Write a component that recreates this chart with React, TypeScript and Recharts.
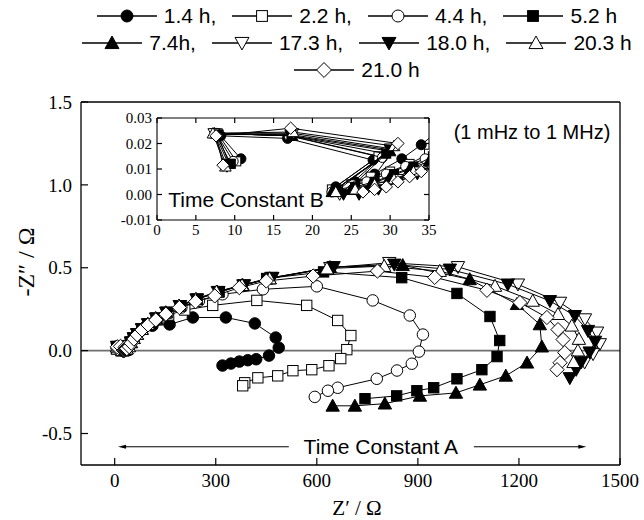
import React from "react";
import { ScatterChart, Scatter, XAxis, YAxis, ReferenceLine } from "recharts";

// Nyquist spectra, Z' (ohm) vs -Z'' (ohm), listed from 1 MHz down to 1 mHz
const s1_4h: [number, number][] = [
  [10.8, 0.014], [8.2, 0.023], [16.8, 0.022], [27.8, 0.0135], [23, 0.003], [25.5, 0.005], [28, 0.008],
  [31.5, 0.014], [34, 0.0195], [39, 0.032], [46, 0.05], [55, 0.075], [66, 0.1], [83, 0.128], [112, 0.15],
  [163, 0.158], [232, 0.2], [330, 0.2], [416, 0.164], [478, 0.079], [487, 0.018], [458, -0.03],
  [420, -0.052], [395, -0.058], [370, -0.066], [345, -0.078], [320, -0.09],
];
const s2_2h: [number, number][] = [
  [10.2, 0.013], [7.8, 0.024], [17.2, 0.023], [28.5, 0.015], [22.5, 0.002], [25, 0.004], [27.5, 0.007],
  [30, 0.009], [32.5, 0.012], [35, 0.016], [40, 0.03], [47, 0.05], [56, 0.075], [67, 0.1], [82, 0.13],
  [102, 0.16], [128, 0.19], [160, 0.215], [208, 0.245], [291, 0.273], [422, 0.303], [570, 0.273],
  [662, 0.182], [701, 0.091], [689, 0.006], [671, -0.048], [636, -0.091], [585, -0.115], [529, -0.121],
  [484, -0.152], [425, -0.164], [386, -0.194], [380, -0.212],
];
const s4_4h: [number, number][] = [
  [9.8, 0.013], [7.6, 0.024], [17, 0.023], [29, 0.0145], [22.5, 0.001], [24.5, 0.003], [27, 0.005],
  [29.5, 0.008], [32, 0.011], [34.5, 0.014], [40, 0.028], [47, 0.05], [56, 0.075], [67, 0.1], [81, 0.13],
  [100, 0.16], [125, 0.19], [157, 0.225], [198, 0.26], [250, 0.3], [320, 0.34], [440, 0.37], [600, 0.388],
  [766, 0.303], [876, 0.212], [915, 0.097], [903, -0.006], [882, -0.079], [838, -0.12], [778, -0.17],
  [662, -0.224], [633, -0.242], [594, -0.279],
];
const s5_2h: [number, number][] = [
  [9.5, 0.012], [7.5, 0.024], [17.3, 0.023], [29.5, 0.016], [23, 0.002], [25.5, 0.003], [28, 0.005],
  [30.5, 0.008], [33, 0.011], [35.5, 0.015], [41, 0.028], [47, 0.05], [56, 0.075], [66, 0.1], [80, 0.13],
  [99, 0.16], [123, 0.195], [154, 0.23], [194, 0.27], [245, 0.31], [310, 0.355], [451, 0.435], [620, 0.475],
  [852, 0.44], [1016, 0.345], [1114, 0.206], [1143, 0.061], [1135, -0.036], [1090, -0.115], [1016, -0.17],
  [947, -0.224], [897, -0.242], [837, -0.273], [743, -0.29],
];
const s7_4h: [number, number][] = [
  [9.2, 0.012], [7.4, 0.024], [17.4, 0.023], [30, 0.017], [22.5, 0.001], [25, 0.002], [27.5, 0.004],
  [30, 0.007], [32.5, 0.01], [35, 0.013], [41, 0.027], [48, 0.05], [56, 0.075], [66, 0.1], [80, 0.13],
  [98, 0.16], [122, 0.195], [152, 0.23], [192, 0.27], [242, 0.31], [305, 0.355], [380, 0.395], [460, 0.435],
  [639, 0.503], [855, 0.515], [1054, 0.43], [1194, 0.28], [1262, 0.158], [1268, 0.024], [1224, -0.073],
  [1161, -0.152], [1084, -0.206], [1013, -0.255], [906, -0.273], [802, -0.32], [713, -0.333], [647, -0.333],
];
const s17_3h: [number, number][] = [
  [9, 0.011], [7.3, 0.024], [17.5, 0.024], [30, 0.018], [23.5, 0], [26, 0.001], [28.5, 0.003],
  [31, 0.006], [33.5, 0.009], [36, 0.012], [42, 0.026], [48, 0.05], [57, 0.075], [67, 0.1], [81, 0.13],
  [99, 0.16], [123, 0.195], [153, 0.23], [193, 0.27], [243, 0.31], [306, 0.355], [382, 0.395], [465, 0.44],
  [640, 0.5], [815, 0.53], [1019, 0.505], [1197, 0.4], [1322, 0.29], [1396, 0.19], [1432, 0.11],
  [1440, 0.04], [1420, -0.02], [1395, -0.07],
];
const s18_0h: [number, number][] = [
  [9.3, 0.012], [7.8, 0.0235], [17.2, 0.0235], [30, 0.0175], [24, 0], [26, 0], [28.5, 0.002],
  [31, 0.005], [33.5, 0.008], [36, 0.011], [42, 0.025], [49, 0.05], [57, 0.075], [67, 0.1], [82, 0.13],
  [100, 0.16], [124, 0.195], [154, 0.23], [194, 0.27], [245, 0.31], [308, 0.355], [384, 0.395], [468, 0.44],
  [650, 0.505], [830, 0.52], [995, 0.49], [1167, 0.4], [1292, 0.3], [1366, 0.21], [1405, 0.12],
  [1426, 0.055], [1410, -0.01], [1385, -0.07], [1370, -0.115], [1351, -0.165],
];
const s20_3h: [number, number][] = [
  [8.8, 0.011], [7.2, 0.024], [17.5, 0.0245], [30.5, 0.019], [23, 0.001], [25.5, 0.002], [28, 0.004],
  [30.5, 0.006], [33, 0.009], [35.5, 0.012], [42, 0.025], [48, 0.05], [56, 0.075], [66, 0.1], [80, 0.13],
  [98, 0.16], [121, 0.195], [151, 0.23], [190, 0.27], [240, 0.31], [302, 0.355], [378, 0.395], [460, 0.435],
  [630, 0.495], [800, 0.51], [965, 0.48], [1129, 0.39], [1241, 0.3], [1316, 0.22], [1357, 0.15],
  [1378, 0.07], [1375, 0], [1362, -0.07],
];
const s21_0h: [number, number][] = [
  [8.5, 0.0115], [7.6, 0.023], [17.2, 0.026], [31, 0.02], [26.5, 0.001], [28, 0.002], [29.5, 0.003],
  [31, 0.005], [32.5, 0.007], [34, 0.009], [36, 0.012], [43, 0.024], [49, 0.045], [57, 0.07], [67, 0.095],
  [81, 0.125], [99, 0.155], [122, 0.185], [152, 0.22], [192, 0.26], [240, 0.295], [297, 0.33], [370, 0.38],
  [450, 0.42], [589, 0.45], [780, 0.48], [950, 0.442], [1105, 0.364], [1203, 0.29], [1283, 0.2],
  [1316, 0.127], [1331, 0.067], [1336, -0.012], [1322, -0.073], [1313, -0.115],
];

const xTicks = [0, 300, 600, 900, 1200, 1500];
const yTicks = [-0.5, 0, 0.5, 1.0, 1.5];
const insetXTicks = [0, 5, 10, 15, 20, 25, 30, 35];
const insetYTicks = [-0.01, 0, 0.01, 0.02, 0.03];

type MarkerKind = "circle" | "square" | "up" | "down" | "diamond";

const seriesList: { name: string; pts: [number, number][]; kind: MarkerKind; filled: boolean }[] = [
  { name: "1.4 h,", pts: s1_4h, kind: "circle", filled: true },
  { name: "2.2 h,", pts: s2_2h, kind: "square", filled: false },
  { name: "4.4 h,", pts: s4_4h, kind: "circle", filled: false },
  { name: "5.2 h", pts: s5_2h, kind: "square", filled: true },
  { name: "7.4h,", pts: s7_4h, kind: "up", filled: true },
  { name: "17.3 h,", pts: s17_3h, kind: "down", filled: false },
  { name: "18.0 h,", pts: s18_0h, kind: "down", filled: true },
  { name: "20.3 h", pts: s20_3h, kind: "up", filled: false },
  { name: "21.0 h", pts: s21_0h, kind: "diamond", filled: false },
];

const SERIF = "'Liberation Serif', 'Times New Roman', serif";
const SANS = "'Liberation Sans', Arial, sans-serif";

function Marker({ cx, cy, kind, filled, s }: { cx: number; cy: number; kind: MarkerKind; filled: boolean; s: number }) {
  const fill = filled ? "#000" : "#fff";
  const common = { fill, stroke: "#000", strokeWidth: 1 };
  if (kind === "circle") return <circle cx={cx} cy={cy} r={s * 0.5} {...common} />;
  if (kind === "square") {
    const h = s * 0.45;
    return <rect x={cx - h} y={cy - h} width={2 * h} height={2 * h} {...common} />;
  }
  if (kind === "diamond") {
    const h = s * 0.62;
    return <polygon points={`${cx},${cy - h} ${cx + h},${cy} ${cx},${cy + h} ${cx - h},${cy}`} {...common} />;
  }
  const h = s * 0.58;
  if (kind === "up")
    return <polygon points={`${cx},${cy - h} ${cx + h},${cy + h * 0.8} ${cx - h},${cy + h * 0.8}`} {...common} />;
  return <polygon points={`${cx},${cy + h} ${cx + h},${cy - h * 0.8} ${cx - h},${cy - h * 0.8}`} {...common} />;
}

const toRows = (pts: [number, number][]) => pts.map(([x, y]) => ({ x, y }));

// inward ticks, labels outside
const BottomTick = (p: any) => (
  <g>
    <line x1={p.x} y1={p.y} x2={p.x} y2={p.y - p.len} stroke="#000" strokeWidth={1.2} />
    <text x={p.x} y={p.y + p.gap} textAnchor="middle" fontFamily={SERIF} fontSize={p.size} fill="#000">
      {p.payload.value}
    </text>
  </g>
);
const LeftTick = (p: any) => (
  <g>
    <line x1={p.x} y1={p.y} x2={p.x + p.len} y2={p.y} stroke="#000" strokeWidth={1.2} />
    <text x={p.x - p.gap} y={p.y} dy="0.35em" textAnchor="end" fontFamily={SERIF} fontSize={p.size} fill="#000">
      {p.fmt(p.payload.value)}
    </text>
  </g>
);
const TopTick = (p: any) => <line x1={p.x} y1={p.y} x2={p.x} y2={p.y + p.len} stroke="#000" strokeWidth={1.2} />;
const RightTick = (p: any) => <line x1={p.x} y1={p.y} x2={p.x - p.len} y2={p.y} stroke="#000" strokeWidth={1.2} />;

// arrow from the text centre outward, leaving room for the caption
const ArrowSeg = (p: any) => {
  const dir = Math.sign(p.x2 - p.x1);
  const sx = p.x1 + dir * p.gap;
  const tip = p.x2;
  return (
    <g>
      <line x1={sx} y1={p.y1} x2={tip - dir * 6} y2={p.y2} stroke="#000" strokeWidth={1} />
      <polygon points={`${tip},${p.y2} ${tip - dir * 8},${p.y2 - 2} ${tip - dir * 8},${p.y2 + 2}`} fill="#000" />
      {p.caption && (
        <text x={p.x1} y={p.y1} dy="0.35em" textAnchor="middle" fontFamily={SANS} fontSize={21} fill="#000">
          {p.caption}
        </text>
      )}
    </g>
  );
};

const fmt1 = (v: number) => v.toFixed(1);
const fmt2 = (v: number) => v.toFixed(2);

function LegendItem({ name, kind, filled }: { name: string; kind: MarkerKind; filled: boolean }) {
  return (
    <span style={{ display: "inline-flex", alignItems: "center", margin: "0 8px" }}>
      <svg width={60} height={16}>
        <line x1={0} y1={8} x2={60} y2={8} stroke="#000" strokeWidth={1.3} />
        <Marker cx={30} cy={8} kind={kind} filled={filled} s={12} />
      </svg>
      <span style={{ marginLeft: 7 }}>{name}</span>
    </span>
  );
}

export default function App() {
  const rows = [seriesList.slice(0, 4), seriesList.slice(4, 8), seriesList.slice(8)];
  return (
    <div style={{ position: "absolute", left: 0, top: 0, width: 644, height: 520, background: "#fff", overflow: "hidden" }}>
      {/* legend */}
      <div style={{ position: "absolute", left: 0, top: 2, width: 714, fontFamily: SANS, fontSize: 21, color: "#000" }}>
        {rows.map((r, i) => (
          <div key={i} style={{ display: "flex", justifyContent: "center", height: 27, alignItems: "center" }}>
            {r.map((s) => (
              <LegendItem key={s.name} name={s.name} kind={s.kind} filled={s.filled} />
            ))}
          </div>
        ))}
      </div>

      {/* main Nyquist plot */}
      <div style={{ position: "absolute", left: 0, top: 0 }}>
        <ScatterChart width={644} height={520} margin={{ top: 101, right: 23, bottom: 54, left: 80 }}>
          <XAxis xAxisId="b" type="number" dataKey="x" domain={[-100, 1500]} ticks={xTicks} interval={0} height={1}
            tickSize={0} tickMargin={0} stroke="#000" strokeWidth={1.3}
            tick={<BottomTick len={7} gap={22} size={19} />} />
          <XAxis xAxisId="t" orientation="top" type="number" dataKey="x" domain={[-100, 1500]} ticks={xTicks} interval={0}
            height={1} tickSize={0} tickMargin={0} stroke="#000" strokeWidth={1.3} tick={<TopTick len={7} />} />
          <YAxis yAxisId="l" type="number" dataKey="y" domain={[-0.69, 1.5]} ticks={yTicks} interval={0} width={1}
            tickSize={0} tickMargin={0} stroke="#000" strokeWidth={1.3}
            tick={<LeftTick len={7} gap={9} size={19} fmt={fmt1} />} />
          <YAxis yAxisId="r" orientation="right" type="number" dataKey="y" domain={[-0.69, 1.5]} ticks={yTicks} interval={0}
            width={1} tickSize={0} tickMargin={0} stroke="#000" strokeWidth={1.3} tick={<RightTick len={7} />} />
          <ReferenceLine xAxisId="b" yAxisId="l" y={0} stroke="#6e6e6e" strokeWidth={1.6} />
          <ReferenceLine xAxisId="b" yAxisId="l" segment={[{ x: 790, y: -0.58 }, { x: 10, y: -0.58 }]}
            shape={(p: any) => <ArrowSeg {...p} gap={92} caption="Time Constant A" />} />
          <ReferenceLine xAxisId="b" yAxisId="l" segment={[{ x: 790, y: -0.58 }, { x: 1400, y: -0.58 }]}
            shape={(p: any) => <ArrowSeg {...p} gap={93} />} />
          {seriesList.map((s) => (
            <Scatter key={s.name} xAxisId="b" yAxisId="l" data={toRows(s.pts)} line={{ stroke: "#000", strokeWidth: 1 }}
              lineType="joint" isAnimationActive={false}
              shape={(p: any) => <Marker cx={p.cx} cy={p.cy} kind={s.kind} filled={s.filled} s={11.5} />} />
          ))}
        </ScatterChart>
      </div>

      {/* high-frequency inset */}
      <div style={{ position: "absolute", left: 100, top: 100 }}>
        <ScatterChart width={340} height={140} margin={{ top: 17, right: 10, bottom: 19, left: 56 }}>
          <XAxis xAxisId="b" type="number" dataKey="x" domain={[0, 35]} ticks={insetXTicks} interval={0} height={1}
            tickSize={0} tickMargin={0} allowDataOverflow stroke="#000" strokeWidth={1.1}
            tick={<BottomTick len={5} gap={15} size={15} />} />
          <XAxis xAxisId="t" orientation="top" type="number" dataKey="x" domain={[0, 35]} ticks={insetXTicks} interval={0}
            height={1} tickSize={0} tickMargin={0} allowDataOverflow stroke="#000" strokeWidth={1.1} tick={<TopTick len={5} />} />
          <YAxis yAxisId="l" type="number" dataKey="y" domain={[-0.01, 0.03]} ticks={insetYTicks} interval={0} width={1}
            tickSize={0} tickMargin={0} allowDataOverflow stroke="#000" strokeWidth={1.1}
            tick={<LeftTick len={5} gap={5} size={15} fmt={fmt2} />} />
          <YAxis yAxisId="r" orientation="right" type="number" dataKey="y" domain={[-0.01, 0.03]} ticks={insetYTicks}
            interval={0} width={1} tickSize={0} tickMargin={0} allowDataOverflow stroke="#000" strokeWidth={1.1}
            tick={<RightTick len={5} />} />
          {seriesList.map((s) => (
            <Scatter key={s.name} xAxisId="b" yAxisId="l" data={toRows(s.pts)} line={{ stroke: "#000", strokeWidth: 1 }}
              lineType="joint" isAnimationActive={false}
              shape={(p: any) => <Marker cx={p.cx} cy={p.cy} kind={s.kind} filled={s.filled} s={10} />} />
          ))}
        </ScatterChart>
      </div>

      {/* captions and axis titles */}
      <svg width={644} height={520} style={{ position: "absolute", left: 0, top: 0, pointerEvents: "none" }}>
        <text x={246} y={200} dy="0.35em" textAnchor="middle" fontFamily={SANS} fontSize={21}>Time Constant B</text>
        <text x={532} y={132} dy="0.35em" textAnchor="middle" fontFamily={SANS} fontSize={20}>(1 mHz to 1 MHz)</text>
        <text x={357} y={508} dy="0.35em" textAnchor="middle" fontFamily={SERIF} fontSize={21}>Z′ / Ω</text>
        <text transform="translate(26,262) rotate(-90)" dy="0.35em" textAnchor="middle" fontFamily={SERIF} fontSize={24}>-Z″ / Ω</text>
      </svg>
    </div>
  );
}
